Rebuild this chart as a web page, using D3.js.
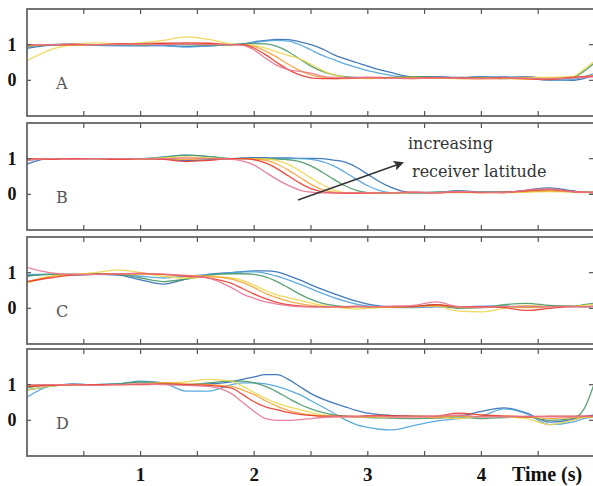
<!DOCTYPE html>
<html>
<head>
<meta charset="utf-8">
<script src="https://cdn.jsdelivr.net/npm/d3@7"></script>
<style>
  body { margin: 0; background: #fff; }
  svg { display: block; }
</style>
</head>
<body>
<div id="chart"></div>
<script>
// sample times (s), shared by every trace
const times = [0, 0.2, 0.4, 0.6, 0.8, 1.0, 1.2, 1.4, 1.6, 1.8, 1.9, 2.0, 2.1, 2.2, 2.3, 2.4, 2.5,
  2.6, 2.7, 2.8, 2.9, 3.0, 3.1, 3.2, 3.4, 3.6, 3.8, 4.0, 4.2, 4.4, 4.6, 4.8, 4.9, 5.0]

const panelNames = ['A', 'B', 'C', 'D']
const traceColors = ['#2f6db3', '#4ea3da', '#4a9868', '#ecd64c', '#f5a23a', '#e8382e', '#e8748e']

// panel A
const panelA = [
  [0.9, 0.98, 1.0, 1.0, 0.98, 0.97, 0.98, 0.95, 0.97, 1.0, 1.02, 1.08, 1.12, 1.15, 1.14, 1.08, 1.0, 0.88, 0.72, 0.6, 0.5, 0.4, 0.3, 0.22, 0.1, 0.1, 0.08, 0.1, 0.08, 0.1, 0.02, 0.0, 0.05, 0.15],
  [0.92, 1.0, 1.0, 0.98, 0.97, 0.98, 0.97, 0.93, 0.96, 1.0, 1.02, 1.06, 1.1, 1.12, 1.1, 1.0, 0.85, 0.7, 0.58, 0.46, 0.36, 0.27, 0.2, 0.14, 0.08, 0.1, 0.07, 0.09, 0.1, 0.06, 0.0, 0.02, 0.1, 0.2],
  [0.95, 1.0, 1.02, 1.0, 1.0, 1.0, 1.02, 1.0, 0.98, 1.0, 1.02, 1.03, 1.02, 0.95, 0.8, 0.6, 0.4, 0.25, 0.15, 0.1, 0.08, 0.07, 0.07, 0.08, 0.1, 0.08, 0.06, 0.08, 0.05, 0.08, 0.05, 0.08, 0.25, 0.5],
  [0.55, 0.85, 1.0, 1.05, 1.02, 1.05, 1.12, 1.22, 1.15, 1.02, 1.0, 0.98, 0.9, 0.8, 0.7, 0.6, 0.45, 0.28, 0.15, 0.08, 0.06, 0.05, 0.06, 0.07, 0.08, 0.06, 0.05, 0.07, 0.06, 0.08, 0.08, 0.1, 0.3, 0.55],
  [0.95, 1.0, 0.98, 1.0, 1.02, 1.0, 1.02, 1.03, 1.02, 1.0, 1.0, 0.95, 0.82, 0.65, 0.45, 0.28, 0.15, 0.08, 0.05, 0.05, 0.06, 0.06, 0.07, 0.06, 0.05, 0.07, 0.05, 0.04, 0.05, 0.03, 0.06, 0.08, 0.1, 0.15],
  [1.0, 1.0, 1.0, 1.0, 1.02, 1.03, 1.04, 1.05, 1.04, 1.0, 1.0, 0.9, 0.72, 0.5, 0.3, 0.15, 0.07, 0.05, 0.05, 0.06, 0.07, 0.08, 0.08, 0.07, 0.06, 0.08, 0.07, 0.06, 0.08, 0.05, 0.02, 0.08, 0.1, 0.12],
  [1.0, 1.0, 1.02, 1.0, 1.0, 1.02, 1.0, 1.02, 1.0, 1.0, 0.98, 0.85, 0.62, 0.42, 0.3, 0.25, 0.2, 0.12, 0.08, 0.07, 0.08, 0.08, 0.07, 0.06, 0.05, 0.07, 0.06, 0.05, 0.07, 0.06, 0.04, 0.06, 0.08, 0.1]
]

// panel B
const panelB = [
  [0.85, 1.0, 1.0, 1.0, 1.0, 0.99, 1.0, 0.95, 0.97, 1.0, 1.02, 1.03, 1.03, 1.02, 1.02, 1.01, 1.01, 1.0, 0.96, 0.9, 0.76, 0.56, 0.36, 0.2, 0.04, 0.05, 0.1, 0.06, 0.05, 0.12, 0.18, 0.1, 0.06, 0.05],
  [0.95, 1.0, 1.0, 1.0, 1.0, 1.0, 1.05, 1.1, 1.06, 1.0, 1.0, 1.0, 1.0, 1.0, 1.0, 1.0, 0.98, 0.92, 0.8, 0.62, 0.42, 0.24, 0.11, 0.05, 0.03, 0.06, 0.08, 0.06, 0.06, 0.1, 0.12, 0.08, 0.06, 0.05],
  [0.97, 1.0, 1.0, 1.0, 1.0, 1.0, 1.04, 1.1, 1.06, 1.0, 1.0, 1.0, 1.0, 0.99, 0.97, 0.92, 0.8, 0.62, 0.42, 0.24, 0.11, 0.05, 0.03, 0.03, 0.05, 0.06, 0.08, 0.06, 0.06, 0.1, 0.12, 0.08, 0.06, 0.05],
  [0.98, 1.0, 1.0, 1.0, 1.0, 1.0, 1.02, 1.05, 1.02, 1.0, 1.0, 1.0, 0.99, 0.95, 0.84, 0.66, 0.46, 0.27, 0.12, 0.05, 0.03, 0.03, 0.04, 0.04, 0.05, 0.05, 0.05, 0.05, 0.05, 0.06, 0.08, 0.06, 0.05, 0.05],
  [0.96, 1.0, 0.99, 1.0, 1.0, 0.99, 1.0, 0.98, 1.0, 1.0, 1.0, 0.99, 0.95, 0.85, 0.68, 0.48, 0.28, 0.13, 0.06, 0.03, 0.03, 0.03, 0.04, 0.04, 0.05, 0.05, 0.06, 0.05, 0.05, 0.08, 0.1, 0.07, 0.06, 0.06],
  [1.0, 0.98, 1.0, 1.0, 0.98, 1.0, 0.98, 0.92, 0.95, 1.0, 1.0, 0.97, 0.88, 0.72, 0.52, 0.32, 0.16, 0.07, 0.04, 0.03, 0.03, 0.04, 0.05, 0.05, 0.06, 0.04, 0.07, 0.05, 0.06, 0.1, 0.14, 0.08, 0.06, 0.05],
  [0.95, 1.0, 0.98, 1.0, 1.0, 1.0, 1.0, 1.02, 1.0, 0.98, 0.93, 0.82, 0.62, 0.42, 0.25, 0.12, 0.06, 0.04, 0.04, 0.04, 0.04, 0.05, 0.05, 0.05, 0.06, 0.05, 0.08, 0.06, 0.05, 0.12, 0.15, 0.08, 0.06, 0.05]
]

// panel C
const panelC = [
  [0.92, 0.95, 0.95, 0.95, 0.93, 0.8, 0.68, 0.82, 0.95, 1.0, 1.03, 1.05, 1.05, 1.02, 0.92, 0.8, 0.66, 0.53, 0.41, 0.3, 0.2, 0.12, 0.07, 0.05, 0.04, 0.05, 0.03, 0.05, 0.06, 0.03, 0.05, 0.06, 0.05, 0.06],
  [0.95, 0.95, 0.93, 0.95, 0.95, 0.9, 0.85, 0.9, 0.95, 1.0, 1.02, 1.02, 0.98, 0.9, 0.8, 0.68, 0.55, 0.42, 0.3, 0.2, 0.12, 0.07, 0.05, 0.03, 0.02, 0.05, 0.04, 0.06, 0.05, 0.04, 0.06, 0.05, 0.05, 0.06],
  [0.9, 0.95, 0.95, 0.97, 0.95, 0.85, 0.75, 0.82, 0.93, 0.97, 0.97, 0.95, 0.88, 0.75, 0.58, 0.4, 0.25, 0.14, 0.08, 0.05, 0.05, 0.04, 0.03, 0.04, 0.05, 0.1, 0.0, 0.02, 0.1, 0.14, 0.08, 0.06, 0.1, 0.15],
  [0.7, 0.9, 0.95, 1.0, 1.08, 1.0, 0.9, 0.85, 0.88, 0.85, 0.78, 0.65, 0.5, 0.38, 0.3, 0.22, 0.15, 0.08, 0.04, 0.0, -0.02, 0.0, 0.02, 0.03, 0.05, 0.06, -0.08, -0.1, 0.0, 0.08, 0.05, 0.05, 0.08, 0.12],
  [0.75, 0.88, 0.95, 0.95, 0.97, 0.95, 0.95, 0.92, 0.9, 0.82, 0.72, 0.58, 0.42, 0.3, 0.2, 0.13, 0.08, 0.05, 0.04, 0.03, 0.04, 0.05, 0.04, 0.05, 0.05, 0.08, 0.03, 0.02, 0.05, 0.02, 0.05, 0.06, 0.05, 0.06],
  [0.75, 0.85, 0.93, 0.95, 0.97, 0.98, 0.95, 0.9, 0.85, 0.7, 0.55, 0.4, 0.27, 0.17, 0.1, 0.07, 0.05, 0.04, 0.05, 0.05, 0.06, 0.05, 0.05, 0.04, 0.05, 0.1, 0.05, 0.05, 0.02, -0.06, 0.0, 0.05, 0.05, 0.05],
  [1.15, 1.0, 0.95, 0.95, 0.97, 0.98, 0.96, 0.92, 0.85, 0.58, 0.4, 0.28, 0.18, 0.12, 0.08, 0.05, 0.04, 0.05, 0.05, 0.04, 0.05, 0.05, 0.05, 0.06, 0.08, 0.18, 0.05, 0.03, 0.05, 0.06, 0.05, 0.05, 0.05, 0.06]
]

// panel D
const panelD = [
  [0.85, 0.95, 1.02, 1.0, 1.02, 1.08, 1.05, 1.0, 1.02, 1.08, 1.15, 1.22, 1.28, 1.28, 1.15, 0.95, 0.75, 0.6, 0.48, 0.38, 0.28, 0.2, 0.16, 0.14, 0.12, 0.1, 0.12, 0.25, 0.35, 0.2, -0.05, 0.02, 0.1, 0.15],
  [0.65, 0.95, 1.0, 1.0, 1.02, 1.1, 1.05, 0.82, 0.82, 1.0, 1.05, 1.05, 1.02, 0.95, 0.85, 0.72, 0.55, 0.38, 0.2, 0.02, -0.12, -0.2, -0.25, -0.27, -0.15, -0.02, 0.05, 0.12, 0.32, 0.18, -0.12, -0.05, 0.05, 0.1],
  [0.9, 1.0, 1.0, 1.0, 1.02, 1.08, 1.05, 1.0, 1.05, 1.1, 1.1, 1.05, 0.95, 0.8, 0.62, 0.45, 0.32, 0.22, 0.15, 0.12, 0.1, 0.08, 0.07, 0.06, 0.05, 0.06, 0.1, 0.05, 0.08, 0.1, 0.0, 0.05, 0.3, 1.1],
  [0.85, 0.95, 1.0, 1.0, 1.0, 1.02, 1.05, 1.08, 1.15, 1.1, 0.95, 0.78, 0.62, 0.48, 0.38, 0.3, 0.22, 0.15, 0.12, 0.1, 0.1, 0.1, 0.1, 0.1, 0.12, 0.1, 0.05, 0.12, 0.1, 0.05, -0.12, 0.0, 0.08, 0.1],
  [0.95, 1.0, 0.98, 1.0, 1.0, 1.02, 1.05, 1.02, 1.0, 0.95, 0.85, 0.72, 0.55, 0.4, 0.28, 0.2, 0.15, 0.12, 0.1, 0.1, 0.1, 0.1, 0.1, 0.1, 0.1, 0.08, 0.12, 0.1, 0.12, 0.1, 0.05, 0.08, 0.1, 0.1],
  [0.95, 0.98, 1.0, 1.0, 1.0, 1.0, 1.02, 1.0, 0.98, 0.9, 0.72, 0.52, 0.38, 0.3, 0.22, 0.17, 0.14, 0.12, 0.12, 0.12, 0.12, 0.13, 0.14, 0.13, 0.12, 0.12, 0.2, 0.15, 0.12, 0.1, 0.12, 0.12, 0.12, 0.12],
  [1.0, 1.0, 1.0, 0.98, 1.0, 1.02, 1.0, 0.98, 0.95, 0.75, 0.5, 0.25, 0.05, 0.0, 0.0, 0.02, 0.05, 0.08, 0.1, 0.1, 0.1, 0.12, 0.12, 0.1, 0.1, 0.12, 0.15, 0.1, 0.1, 0.12, 0.1, 0.1, 0.12, 0.12]
]

const panels = [panelA, panelB, panelC, panelD]
const xTickLabels = [1, 2, 3, 4]

const width = 593, height = 486
const panelTops = [9, 123, 237, 349], panelH = 107
const left = 27, right = 595

const svg = d3.select('#chart').append('svg')
  .attr('width', width)
  .attr('height', height)

const x = d3.scaleLinear().domain([0, 5]).range([left, right])
const serif = '"Liberation Serif", "DejaVu Serif", serif'
const wideSerif = '"DejaVu Serif", serif'

panels.forEach((traces, p) => {
  const top = panelTops[p]
  const y = d3.scaleLinear().domain([-1, 2]).range([top + panelH, top])
  const g = svg.append('g')

  g.append('clipPath').attr('id', 'clip' + p)
    .append('rect')
    .attr('x', left).attr('y', top)
    .attr('width', right - left).attr('height', panelH)

  const line = d3.line()
    .x((d, i) => x(times[i]))
    .y(d => y(d))
    .curve(d3.curveMonotoneX)

  g.append('g').attr('clip-path', `url(#clip${p})`)
    .selectAll('path')
    .data(traces)
    .enter().append('path')
    .attr('d', d => line(d))
    .attr('fill', 'none')
    .attr('stroke', (d, i) => traceColors[i])
    .attr('stroke-width', 1.3)
    .attr('stroke-opacity', 0.9)

  // frame
  g.append('rect')
    .attr('x', left).attr('y', top)
    .attr('width', right - left).attr('height', panelH)
    .attr('fill', 'none')
    .attr('stroke', '#666')
    .attr('stroke-width', 1.8)

  // inward ticks top / bottom
  const xt = d3.range(0.5, 5, 0.5)
  g.selectAll('.tt').data(xt).enter().append('line')
    .attr('x1', d => x(d)).attr('x2', d => x(d))
    .attr('y1', top).attr('y2', top + 5)
    .attr('stroke', '#555').attr('stroke-width', 1.2)
  g.selectAll('.tb').data(xt).enter().append('line')
    .attr('x1', d => x(d)).attr('x2', d => x(d))
    .attr('y1', top + panelH).attr('y2', top + panelH - 5)
    .attr('stroke', '#555').attr('stroke-width', 1.2)

  // y ticks
  g.selectAll('.yl').data([0, 1]).enter().append('line')
    .attr('x1', left).attr('x2', left + 4)
    .attr('y1', d => y(d)).attr('y2', d => y(d))
    .attr('stroke', '#555').attr('stroke-width', 1.2)
  g.selectAll('.yr').data([0, 1]).enter().append('line')
    .attr('x1', right - 6).attr('x2', right)
    .attr('y1', d => y(d)).attr('y2', d => y(d))
    .attr('stroke', '#555').attr('stroke-width', 1.2)
  g.selectAll('.ylab').data([0, 1]).enter().append('text')
    .attr('x', 12).attr('y', d => y(d) + 6)
    .attr('text-anchor', 'middle')
    .attr('font-family', serif)
    .attr('font-weight', 'bold')
    .attr('font-size', 18)
    .attr('fill', '#111')
    .text(d => d)

  g.append('text')
    .attr('x', 56).attr('y', y(0) + 9)
    .attr('font-family', wideSerif)
    .attr('font-size', 16)
    .attr('fill', '#555')
    .text(panelNames[p])
})

// x tick labels under the last panel
svg.selectAll('.xlab').data(xTickLabels).enter().append('text')
  .attr('x', d => x(d)).attr('y', 481)
  .attr('text-anchor', 'middle')
  .attr('font-family', serif)
  .attr('font-weight', 'bold')
  .attr('font-size', 19)
  .attr('fill', '#111')
  .text(d => d)

svg.append('text')
  .attr('x', 512).attr('y', 481)
  .attr('font-family', serif)
  .attr('font-weight', 'bold')
  .attr('font-size', 20)
  .attr('fill', '#111')
  .text('Time (s)')

// annotation in panel B
svg.append('defs').append('marker')
  .attr('id', 'head')
  .attr('viewBox', '0 0 10 10')
  .attr('refX', 8).attr('refY', 5)
  .attr('markerWidth', 10).attr('markerHeight', 10)
  .attr('markerUnits', 'userSpaceOnUse')
  .attr('orient', 'auto')
  .append('path')
  .attr('d', 'M0,0 L10,5 L0,10 L2,5 Z')
  .attr('fill', '#333')

svg.append('line')
  .attr('x1', 298).attr('y1', 200)
  .attr('x2', 402).attr('y2', 163)
  .attr('stroke', '#333').attr('stroke-width', 1.4)
  .attr('marker-end', 'url(#head)')

svg.append('text')
  .attr('x', 408).attr('y', 149)
  .attr('font-family', wideSerif)
  .attr('font-size', 16)
  .attr('fill', '#333')
  .text('increasing')
svg.append('text')
  .attr('x', 412).attr('y', 177)
  .attr('font-family', wideSerif)
  .attr('font-size', 16)
  .attr('fill', '#333')
  .text('receiver latitude')
</script>
</body>
</html>
